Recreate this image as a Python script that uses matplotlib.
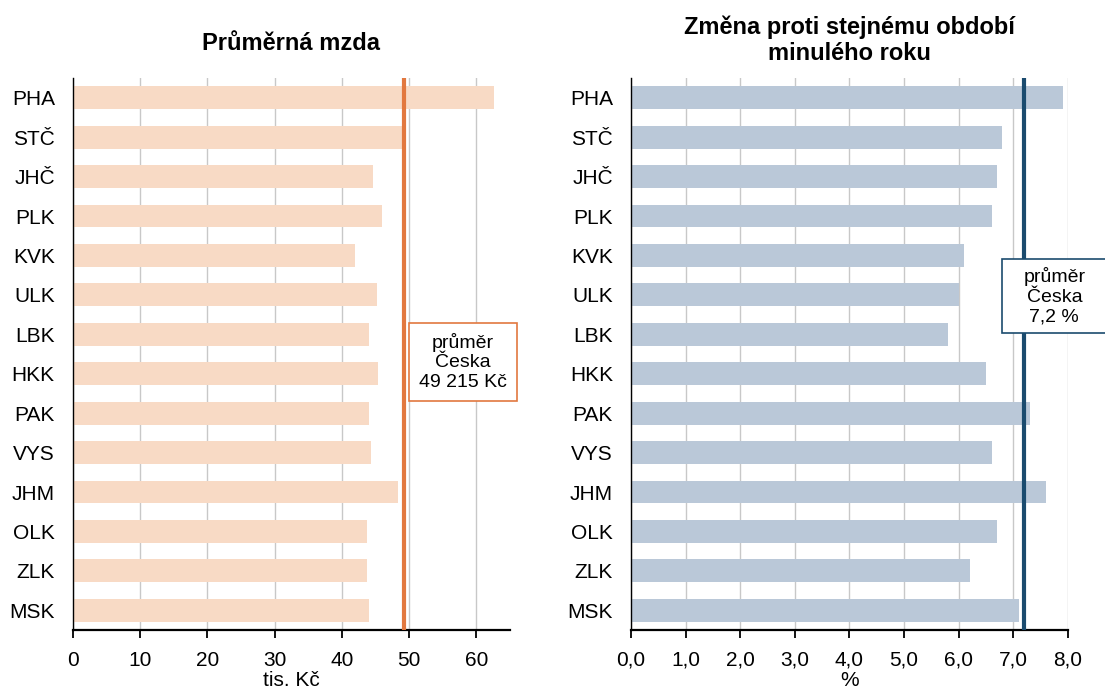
import numpy as np
import matplotlib.pyplot as plt
from matplotlib.patches import Rectangle

plt.rcParams['font.family'] = ['Liberation Sans', 'DejaVu Sans']

regions = ['PHA', 'STČ', 'JHČ', 'PLK', 'KVK', 'ULK', 'LBK', 'HKK', 'PAK', 'VYS', 'JHM', 'OLK', 'ZLK', 'MSK']
wage = [62.7, 49.3, 44.6, 45.9, 42.0, 45.2, 44.0, 45.3, 44.1, 44.4, 48.4, 43.7, 43.8, 44.1]
change = [7.9, 6.8, 6.7, 6.6, 6.1, 6.0, 5.8, 6.5, 7.3, 6.6, 7.6, 6.7, 6.2, 7.1]
wage_avg = 49.215
change_avg = 7.2

fig = plt.figure(figsize=(11.05, 6.88), dpi=100)
ax = fig.add_axes([0.066, 0.0843, 0.3955, 0.8023])
ox = fig.add_axes([0.571, 0.0843, 0.3955, 0.8023])

y = np.arange(len(regions))
fs = 15


def style(a, xmax, ticks, labels):
    a.set_xlim(0, xmax)
    a.set_ylim(len(regions) - 0.5, -0.5)
    a.set_yticks(y)
    a.set_yticklabels(regions, fontsize=fs)
    a.tick_params(axis='y', length=0, pad=13)
    a.set_xticks(ticks)
    a.set_xticklabels(labels, fontsize=fs)
    a.tick_params(axis='x', length=6, width=1.3, direction='out', pad=9)
    a.grid(axis='x', color='#c8c8c8', lw=1)
    a.set_axisbelow(True)
    for s in ['top', 'right']:
        a.spines[s].set_visible(False)
    a.spines['bottom'].set_linewidth(1.6)
    a.spines['left'].set_linewidth(1.0)


ax.barh(y, wage, height=0.58, color='#f8dac5', zorder=2)
ax.axvline(wage_avg, color='#e2783f', lw=3, zorder=3)
style(ax, 65, np.arange(0, 61, 10), [str(t) for t in range(0, 61, 10)])
ax.set_xlabel('tis. Kč', fontsize=fs, labelpad=1)
ax.set_title('Průměrná mzda', fontsize=17, fontweight='bold', pad=20)
ax.text(58, 6.7, 'průměr\nČeska\n49 215 Kč', ha='center', va='center', fontsize=14, zorder=5,
        clip_on=False, bbox=dict(boxstyle='square,pad=0.5', fc='white', ec='#e2783f', lw=1.2))

ox.barh(y, change, height=0.58, color='#bac8d8', zorder=2)
ox.axvline(change_avg, color='#1b4b6e', lw=3, zorder=3)
ct = np.arange(0, 8.1, 1.0)
style(ox, 8, ct, [f'{t:.1f}'.replace('.', ',') for t in ct])
ox.set_xlabel('%', fontsize=fs, labelpad=1)
ox.set_title('Změna proti stejnému období\nminulého roku', fontsize=17, fontweight='bold', pad=13,
             linespacing=1.15)
ox.add_patch(Rectangle((6.79, 4.08), 2.1, 1.89, fc='white', ec='#1b4b6e', lw=1.2,
                       zorder=5, clip_on=False))
ox.text(7.75, 5.03, 'průměr\nČeska\n7,2 %', ha='center', va='center', fontsize=14, zorder=6,
        clip_on=False)

plt.savefig('out.png', dpi=100)
